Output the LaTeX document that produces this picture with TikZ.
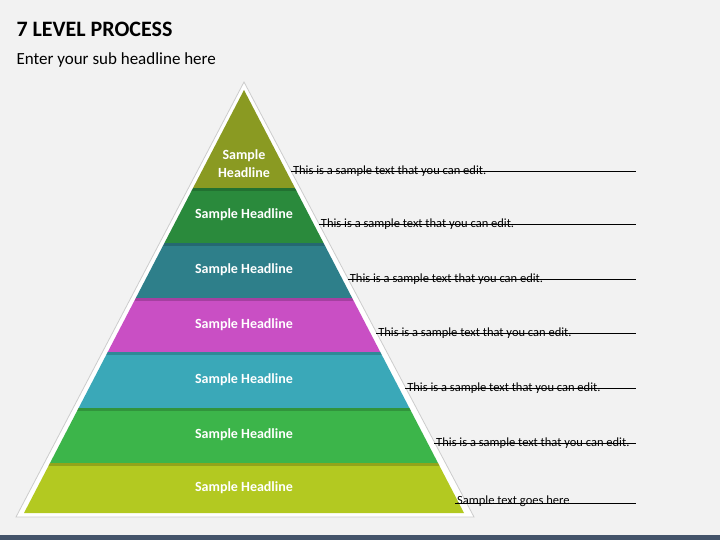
\documentclass[tikz,border=0pt]{standalone}
\usepackage{fontspec}
\setmainfont{Carlito}
\definecolor{bgcolor}{HTML}{F2F2F2}
\definecolor{barcolor}{HTML}{44546A}
\definecolor{levA}{HTML}{8A9A22}
\definecolor{levB}{HTML}{2A8A3C}
\definecolor{levC}{HTML}{2E7F8A}
\definecolor{levD}{HTML}{C94FC4}
\definecolor{levE}{HTML}{3AA8B8}
\definecolor{levF}{HTML}{3CB54A}
\definecolor{levG}{HTML}{B3C921}
\tikzset{
  headline/.style={text=white,font=\bfseries\fontsize{14}{18}\selectfont,align=center},
  sidetext/.style={anchor=south west,inner sep=1pt,font=\fontsize{12.5}{14}\selectfont},
  underline/.style={draw=black,line width=0.8pt}
}
\begin{document}
\begin{tikzpicture}[x=1pt,y=-1pt]
\fill[bgcolor] (0,0) rectangle (720,540);
\useasboundingbox (0,0) rectangle (720,540);
\fill[barcolor] (0,535) rectangle (720,540);
% titles
\node[anchor=west,font=\bfseries\fontsize{22}{26}\selectfont] (title) at (13,29) {7 LEVEL PROCESS};
\node[anchor=west,font=\fontsize{17}{20}\selectfont] (subtitle) at (13,60) {Enter your sub headline here};
% outer frame
\fill[white,draw=black!20,line width=0.8pt] (244,82) -- (474,517) -- (16,517) -- cycle;
% layers
\begin{scope}
\clip (244,90) -- (464,513) -- (24,513) -- cycle;
\foreach \c/\ya/\yb in {levA/80/188,levB/188/243,levC/243/298,levD/298/352,levE/352/408,levF/408/463,levG/463/520}{
  \fill[\c] (0,\ya) rectangle (720,\yb);
  \fill[black,opacity=0.18] (0,\ya) rectangle (720,\ya+3);
}
\end{scope}
% headlines
\node[headline] (headA) at (244,164) {Sample\\Headline};
\foreach \n/\y in {B/215,C/270,D/325,E/380,F/435,G/488}{
  \node[headline] (head\n) at (244,\y) {Sample Headline};
}
% side texts
\foreach \n/\y in {A/171,B/224,C/279,D/333,E/388,F/443}{
  \pgfmathsetmacro{\xs}{244+(\y-82)/435*229}
  \coordinate (start\n) at (\xs,\y);
  \coordinate (end\n) at (636,\y);
  \draw[underline] (start\n) -- (end\n);
  \node[sidetext] (text\n) at ([xshift=1pt,yshift=-7pt]start\n) {This is a sample text that you can edit.};
}
\coordinate (startG) at (455,503);
\coordinate (endG) at (636,503);
\draw[underline] (startG) -- (endG);
\node[sidetext] (textG) at ([xshift=1pt,yshift=-5pt]startG) {Sample text goes here};
\end{tikzpicture}
\end{document}
